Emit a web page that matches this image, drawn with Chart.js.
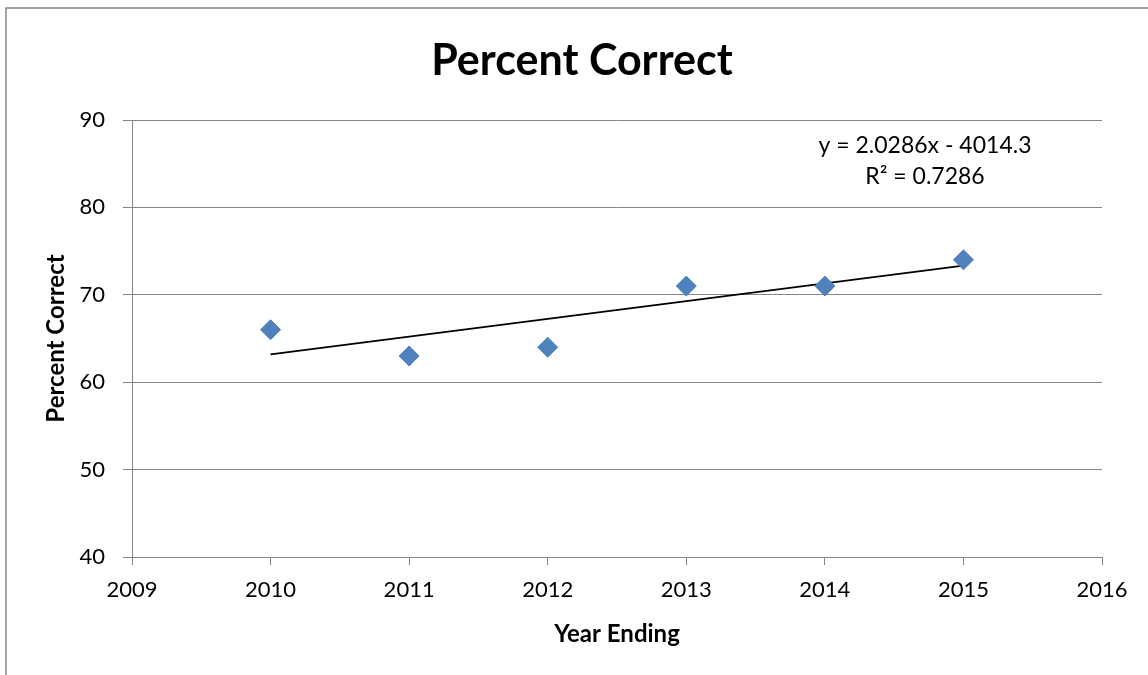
<!DOCTYPE html>
<html>
<head>
<meta charset="utf-8">
<script src="https://cdn.jsdelivr.net/npm/chart.js@4.4.0/dist/chart.umd.min.js"></script>
<style>
  html, body { margin: 0; padding: 0; background: #ffffff; }
  #wrap { width: 1148px; height: 675px; position: relative; }
</style>
</head>
<body>
<div id="wrap"><canvas id="chart" width="1148" height="675"></canvas></div>
<script>
// Yearly results
const years = [2010, 2011, 2012, 2013, 2014, 2015];
const percentCorrect = [66, 63, 64, 71, 71, 74];

// Linear trendline as printed on the chart
const trendSlope = 2.0286;
const trendIntercept = -4014.3;
const trendR2 = 0.7286;
const trendYears = [2010, 2015];

// Axis ranges and tick labels
const xTicks = [2009, 2010, 2011, 2012, 2013, 2014, 2015, 2016];
const yTicks = [40, 50, 60, 70, 80, 90];

const chartTitle = 'Percent Correct';
const xTitle = 'Year Ending';
const yTitle = 'Percent Correct';
const equationLines = [
  'y = ' + trendSlope.toFixed(4) + 'x - ' + Math.abs(trendIntercept).toFixed(1),
  'R\u00B2 = ' + trendR2.toFixed(4)
];

const FONT = 'Lato, "Liberation Sans", sans-serif';
const GRID = '#868686';

const points = years.map((y, i) => ({ x: y, y: percentCorrect[i] }));
const trend = trendYears.map(x => ({ x: x, y: trendSlope * x + trendIntercept }));

// Frame, titles and equation text
const decorations = {
  id: 'decorations',
  beforeDraw(chart) {
    const ctx = chart.ctx;
    ctx.save();
    ctx.fillStyle = '#ffffff';
    ctx.fillRect(0, 0, chart.width, chart.height);
    ctx.strokeStyle = GRID;
    ctx.lineWidth = 1.5;
    ctx.beginPath();
    ctx.moveTo(6, chart.height);
    ctx.lineTo(6, 8);
    ctx.lineTo(chart.width, 8);
    ctx.stroke();
    ctx.restore();
  },
  afterDraw(chart) {
    const ctx = chart.ctx;
    const area = chart.chartArea;
    ctx.save();
    ctx.fillStyle = '#000000';
    ctx.textAlign = 'center';
    ctx.textBaseline = 'alphabetic';

    ctx.font = 'bold 43px ' + FONT;
    ctx.fillText(chartTitle, 582, 75);

    ctx.font = 'bold 24px ' + FONT;
    ctx.fillText(xTitle, (area.left + area.right) / 2, 642);

    ctx.save();
    ctx.translate(64, (area.top + area.bottom) / 2);
    ctx.rotate(-Math.PI / 2);
    ctx.fillText(yTitle, 0, 0);
    ctx.restore();

    ctx.font = '23px ' + FONT;
    ctx.fillText(equationLines[0], 925, 153);
    ctx.fillText(equationLines[1], 925, 184);
    ctx.restore();
  }
};

new Chart(document.getElementById('chart'), {
  type: 'scatter',
  data: {
    datasets: [
      {
        label: 'Percent Correct',
        data: points,
        pointStyle: 'rectRot',
        pointRadius: 10,
        pointHoverRadius: 10,
        backgroundColor: '#4F81BD',
        borderColor: '#4F81BD',
        borderWidth: 1,
        order: 1
      },
      {
        label: 'Linear trend',
        type: 'line',
        data: trend,
        borderColor: '#000000',
        borderWidth: 1.8,
        pointRadius: 0,
        fill: false,
        order: 2
      }
    ]
  },
  options: {
    responsive: false,
    animation: false,
    devicePixelRatio: 1,
    layout: { padding: { top: 120, right: 46, left: 0, bottom: 0 } },
    plugins: {
      legend: { display: false },
      title: { display: false },
      tooltip: { enabled: false }
    },
    scales: {
      x: {
        type: 'linear',
        min: xTicks[0],
        max: xTicks[xTicks.length - 1],
        afterBuildTicks(scale) { scale.ticks = xTicks.map(v => ({ value: v })); },
        afterFit(scale) { scale.height = 118; },
        grid: {
          drawOnChartArea: false,
          drawTicks: true,
          tickLength: 8,
          color: GRID,
          lineWidth: 1
        },
        border: { display: true, color: GRID, width: 1 },
        ticks: {
          color: '#000000',
          font: { family: FONT, size: 22 },
          padding: 12,
          maxRotation: 0,
          autoSkip: false,
          callback: v => String(v)
        }
      },
      y: {
        type: 'linear',
        min: yTicks[0],
        max: yTicks[yTicks.length - 1],
        afterBuildTicks(scale) { scale.ticks = yTicks.map(v => ({ value: v })); },
        afterFit(scale) { scale.width = 132; },
        grid: {
          drawOnChartArea: true,
          drawTicks: true,
          tickLength: 9,
          color: GRID,
          lineWidth: 1
        },
        border: { display: true, color: GRID, width: 1 },
        ticks: {
          color: '#000000',
          font: { family: FONT, size: 22 },
          padding: 18,
          callback: v => String(v)
        }
      }
    }
  },
  plugins: [decorations]
});
</script>
</body>
</html>
